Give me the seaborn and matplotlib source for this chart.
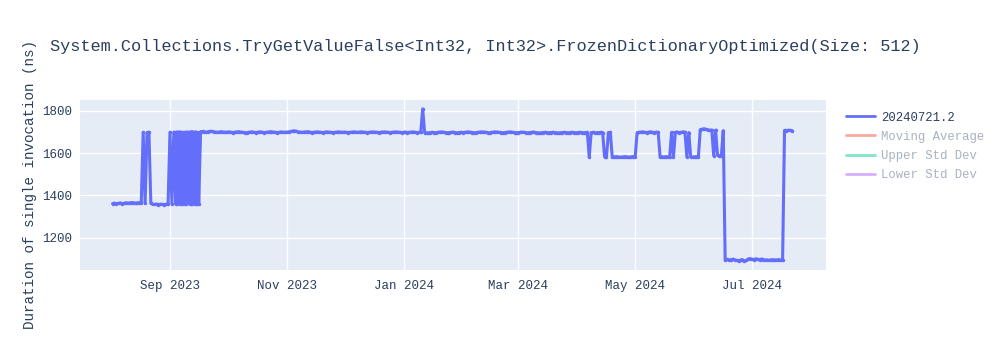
import numpy as np
import pandas as pd
import matplotlib
matplotlib.use("Agg")
import matplotlib.pyplot as plt
import matplotlib.dates as mdates
from matplotlib.lines import Line2D
import seaborn as sns

# ---------------- data ----------------
title = "System.Collections.TryGetValueFalse<Int32, Int32>.FrozenDictionaryOptimized(Size: 512)"
y_label = "Duration of single invocation (ns)"
series_name = "20240721.2"
hidden_series = ["Moving Average", "Upper Std Dev", "Lower Std Dev"]
start_date = "2023-08-02"

vals_aug = [1361, 1363, 1360, 1362, 1364, 1361, 1362, 1365, 1363, 1364, 1366, 1365, 1363, 1364, 1366, 1365,
            1698, 1362, 1697, 1699, 1363,
            1358, 1357, 1359, 1356, 1358, 1357, 1356, 1358, 1357]
vals_sep = [1698, 1360, 1699, 1359, 1700, 1361, 1698, 1360, 1697, 1362, 1699, 1358, 1700, 1361, 1698, 1360,
            1701, 1702, 1700, 1699, 1701, 1703, 1702, 1700, 1699, 1698, 1700, 1701, 1699, 1698]
vals_oct = [1699, 1700, 1698, 1697, 1699, 1700, 1701, 1699, 1698, 1697, 1696, 1698, 1699, 1700, 1698, 1697,
            1699, 1700, 1699, 1697, 1698, 1699, 1700, 1701, 1699, 1698, 1697, 1698, 1700, 1699, 1698]
vals_nov = [1699, 1700, 1702, 1704, 1705, 1703, 1700, 1699, 1698, 1699, 1700, 1701, 1699, 1697, 1698,
            1699, 1700, 1699, 1698, 1697, 1699, 1700, 1699, 1698, 1697, 1698, 1699, 1700, 1699, 1698]
vals_dec = [1699, 1698, 1697, 1698, 1699, 1700, 1699, 1698, 1699, 1700, 1699, 1698, 1697, 1698, 1699, 1700,
            1699, 1698, 1697, 1698, 1699, 1700, 1699, 1698, 1697, 1698, 1699, 1700, 1699, 1698, 1697]
vals_jan = [1698, 1699, 1697, 1698, 1699, 1700, 1698, 1697, 1698, 1699, 1809, 1697, 1696, 1695, 1697, 1698,
            1697, 1696, 1698, 1699, 1700, 1698, 1697, 1696, 1697, 1698, 1699, 1697, 1696, 1697, 1698]
vals_feb = [1697, 1698, 1699, 1700, 1698, 1697, 1696, 1697, 1698, 1699, 1700, 1699, 1698, 1697, 1696,
            1698, 1699, 1700, 1699, 1698, 1697, 1696, 1697, 1698, 1699, 1700, 1698, 1697, 1696]
vals_mar = [1697, 1698, 1699, 1698, 1697, 1696, 1697, 1698, 1699, 1697, 1696, 1695, 1696, 1697, 1698, 1697,
            1696, 1697, 1698, 1697, 1696, 1695, 1696, 1697, 1698, 1697, 1696, 1697, 1698, 1697, 1696]
vals_apr = [1697, 1698, 1697, 1696, 1697, 1698, 1581, 1697, 1698, 1697, 1696, 1697, 1698, 1697,
            1583, 1582, 1697, 1698, 1582,
            1581, 1583, 1582, 1580, 1581, 1582, 1583, 1581, 1580, 1582, 1583]
vals_may = [1582, 1697, 1698, 1699, 1700, 1698, 1697, 1699, 1700, 1698, 1697, 1699, 1698, 1583, 1582,
            1581, 1583, 1582, 1580, 1698, 1583, 1698, 1699, 1697, 1698, 1700, 1699, 1582, 1697, 1582, 1581]
vals_jun = [1582, 1583, 1581, 1711, 1713, 1715, 1712, 1710, 1708, 1709, 1588, 1709, 1590, 1586, 1587,
            1706, 1094, 1097, 1093, 1096, 1098, 1095, 1092, 1090, 1094, 1096, 1088, 1092, 1099, 1101]
vals_jul = [1098, 1096, 1100, 1097, 1095, 1099, 1096, 1094, 1095, 1093, 1095, 1096, 1094, 1095, 1096,
            1094, 1095, 1707, 1706, 1708, 1707, 1706]

# extra intraday runs during the unstable week in September 2023
burst_times = ["2023-09-04 08:00", "2023-09-04 16:00", "2023-09-05 08:00", "2023-09-05 16:00",
               "2023-09-06 08:00", "2023-09-06 16:00", "2023-09-07 08:00", "2023-09-07 16:00",
               "2023-09-08 08:00", "2023-09-08 16:00", "2023-09-09 08:00", "2023-09-09 16:00",
               "2023-09-10 08:00", "2023-09-10 16:00", "2023-09-11 08:00", "2023-09-11 16:00",
               "2023-09-12 08:00", "2023-09-12 16:00", "2023-09-13 08:00", "2023-09-13 16:00",
               "2023-09-14 08:00", "2023-09-14 16:00", "2023-09-15 08:00", "2023-09-15 16:00"]
burst_values = [1699, 1361, 1362, 1698, 1700, 1359, 1363, 1697, 1699, 1360, 1361, 1700,
                1698, 1362, 1360, 1699, 1701, 1358, 1362, 1698, 1700, 1361, 1359, 1697]

values = (vals_aug + vals_sep + vals_oct + vals_nov + vals_dec + vals_jan + vals_feb
          + vals_mar + vals_apr + vals_may + vals_jun + vals_jul)
dates = pd.date_range(start_date, periods=len(values), freq="D")
df = pd.concat([pd.DataFrame({"date": dates, "value": values}),
                pd.DataFrame({"date": pd.to_datetime(burst_times), "value": burst_values})])
df = df.sort_values("date").reset_index(drop=True)

y_ticks = [1200, 1400, 1600, 1800]
x_lim = ("2023-07-16", "2024-08-08 16:00")
y_lim = (1047, 1851)

# ---------------- style ----------------
FONT = ["Liberation Mono", "DejaVu Sans Mono"]
TEXT = "#2a3f5f"
BG = "#E5ECF6"
MAIN = "#636EFA"
FADED = ["#F7AA9D", "#80E6CB", "#D5B1FD"]

sns.set_theme(style="white")
plt.rcParams["font.family"] = FONT

fig = plt.figure(figsize=(10, 3.5), dpi=100)
ax = fig.add_axes([0.08, 0.2286, 0.746, 0.4857])
ax.set_facecolor(BG)

sns.lineplot(data=df, x="date", y="value", ax=ax, color=MAIN, linewidth=2.2,
             marker="o", markersize=2.5, markeredgewidth=0, legend=False,
             estimator=None, sort=True)

ax.set_xlim(pd.Timestamp(x_lim[0]), pd.Timestamp(x_lim[1]))
ax.set_ylim(*y_lim)
ax.set_yticks(y_ticks)
ax.xaxis.set_major_locator(mdates.MonthLocator(bymonth=[1, 3, 5, 7, 9, 11]))
ax.xaxis.set_major_formatter(mdates.DateFormatter("%b %Y"))
ax.grid(True, color="white", linewidth=1)
ax.set_axisbelow(True)
for s in ax.spines.values():
    s.set_visible(False)
ax.tick_params(axis="both", length=0, labelsize=9, labelcolor=TEXT)
ax.tick_params(axis="x", pad=7)
ax.tick_params(axis="y", pad=6)
ax.set_xlabel("")
ax.set_ylabel(y_label, fontsize=10.3, color=TEXT)
ax.yaxis.set_label_coords(-0.057, 0.5)

fig.text(0.05, 1 - 46 / 350, title, fontsize=12.2, color=TEXT, va="center", ha="left")

handles = [Line2D([], [], color=MAIN, linewidth=2)] + [Line2D([], [], color=c, linewidth=2) for c in FADED]
labels = [series_name] + hidden_series
leg = fig.legend(handles, labels, loc="upper left", bbox_to_anchor=(0.841, 0.695),
                 frameon=False, fontsize=8.8, handlelength=2.4, handletextpad=0.5,
                 labelspacing=0.58, borderaxespad=0)
for i, t in enumerate(leg.get_texts()):
    t.set_color(TEXT if i == 0 else "#A9B2C0")

fig.savefig("out.png", dpi=100)
